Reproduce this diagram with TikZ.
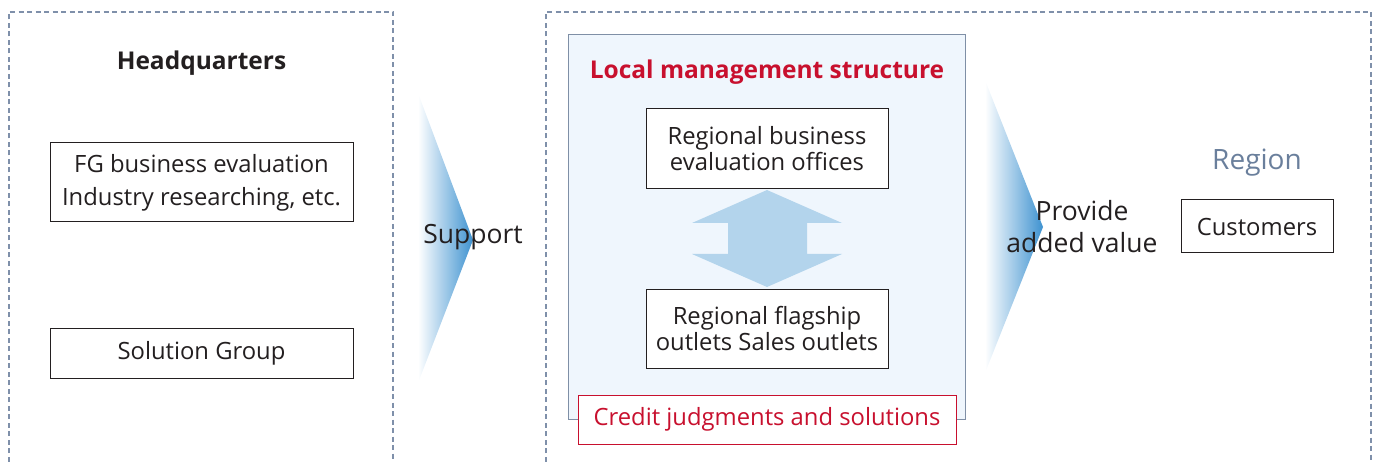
\documentclass[tikz,border=0pt]{standalone}
\usepackage{fontspec}
\setmainfont{Open Sans}
\definecolor{txt}{HTML}{231F20}
\definecolor{dashc}{HTML}{7F90AA}
\definecolor{localfill}{HTML}{EFF6FD}
\definecolor{localdraw}{HTML}{7F8FA6}
\definecolor{redc}{HTML}{C8102E}
\definecolor{arrowblue}{HTML}{3E92D0}
\definecolor{dblarrow}{HTML}{B3D4EC}
\definecolor{regionc}{HTML}{6A7F9C}
\begin{document}
\begin{tikzpicture}[x=1pt,y=-1pt,
  every node/.style={text=txt, font=\fontsize{23.8}{26}\selectfont},
  dashbox/.style={draw=dashc, line width=1.2pt, dash pattern=on 5pt off 3.5pt},
  boxnode/.style={draw=txt, line width=1pt, fill=white, align=center, inner sep=0pt},
  lbl/.style={align=center, inner sep=0pt}
]
\useasboundingbox (0,0) rectangle (1375,462);
% dashed frames (open at bottom)
\draw[dashbox] (9,470) -- (9,12) -- (393,12) -- (393,470);
\draw[dashbox] (546,470) -- (546,12) -- (1371,12) -- (1371,470);

% headquarters
\node[lbl, font=\fontsize{24.5}{26}\selectfont\bfseries] (hq) at (201.5,63) {Headquarters};
\node[boxnode, minimum width=303pt, minimum height=79pt, font=\fontsize{23.8}{33}\selectfont] (fg) at (201.5,182.5) {FG business evaluation\\Industry researching, etc.};
\node[boxnode, minimum width=303pt, minimum height=50pt] (sg) at (201.5,353) {Solution Group};

% support arrow
\shade[left color=white, right color=arrowblue] (418,93) -- (473,240) -- (418,383) -- cycle;
\node[lbl, font=\fontsize{26.5}{30}\selectfont] (sup) at (473,237) {Support};

% local management
\draw[draw=localdraw, fill=localfill, line width=1pt] (568,35) rectangle (965,419);
\node[lbl, text=redc, font=\fontsize{24.5}{26}\selectfont\bfseries] (lm) at (767,72) {Local management structure};
\node[boxnode, minimum width=242pt, minimum height=80pt] (rb) at (767,149) {Regional business\\evaluation offices};
\node[boxnode, minimum width=242pt, minimum height=79pt] (rf) at (767,328.5) {Regional flagship\\outlets Sales outlets};
\fill[dblarrow] (767,190) -- (842,223) -- (807,223) -- (807,254) -- (842,254) -- (767,287)
  -- (692,254) -- (728,254) -- (728,223) -- (692,223) -- cycle;
\node[boxnode, draw=redc, text=redc, minimum width=378pt, minimum height=49pt] (cj) at (767,419.5) {Credit judgments and solutions};

% provide arrow
\shade[left color=white, right color=arrowblue] (985,80) -- (1043,227) -- (985,373) -- cycle;
\node[lbl, font=\fontsize{26.5}{32}\selectfont] (pv) at (1082,227) {Provide\\added value};

% region
\node[lbl, text=regionc, font=\fontsize{28}{30}\selectfont] (rg) at (1257,163) {Region};
\node[boxnode, minimum width=152pt, minimum height=53pt] (cu) at (1257,226.5) {Customers};
\end{tikzpicture}
\end{document}
